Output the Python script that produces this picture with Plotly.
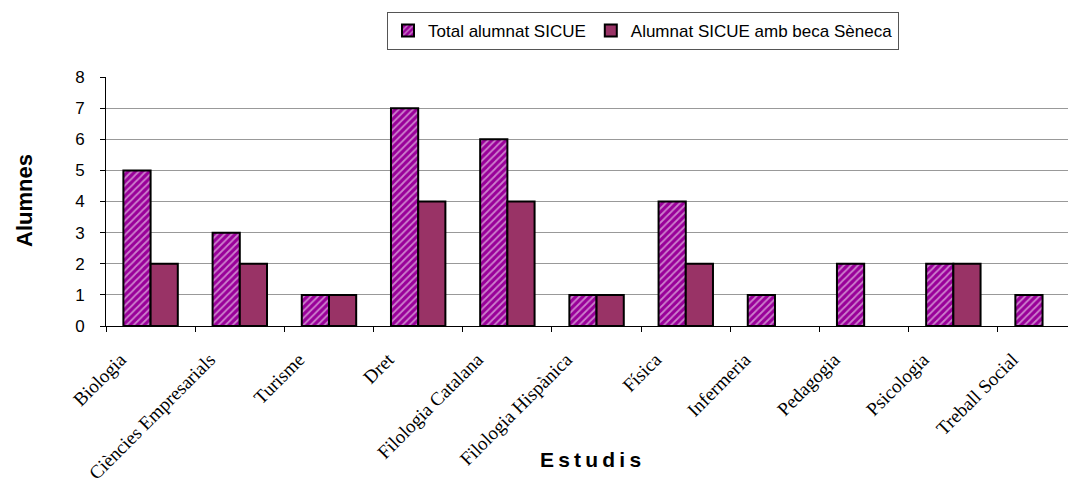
import plotly.graph_objects as go

categories = ["Biologia", "Ciències Empresarials", "Turisme", "Dret", "Filologia Catalana",
              "Filologia Hispànica", "Física", "Infermeria", "Pedagogia", "Psicologia", "Treball Social"]
total_alumnat = [5, 3, 1, 7, 6, 1, 4, 1, 2, 2, 1]
alumnat_beca = [2, 2, 1, 4, 4, 1, 2, None, None, 2, None]
y_ticks = [0, 1, 2, 3, 4, 5, 6, 7, 8]

fig = go.Figure()
fig.add_trace(go.Bar(
    x=categories, y=total_alumnat, name="Total alumnat SICUE",
    marker=dict(color="#990099", line=dict(color="black", width=2),
                pattern=dict(shape="/", fgcolor="white", bgcolor="#990099", size=5, solidity=0.35)),
))
fig.add_trace(go.Bar(
    x=categories, y=alumnat_beca, name="Alumnat SICUE amb beca Sèneca",
    marker=dict(color="#993366", line=dict(color="black", width=2)),
))

W, H = 1068, 476
PL, PR, PT, PB = 98, 1068, 69, 318
def px(x):
    return (x - PL) / (PR - PL)
def py(y):
    return (PB - y) / (PB - PT)

fig.update_layout(
    width=W, height=H,
    margin=dict(l=PL, r=W - PR, t=PT, b=H - PB),
    paper_bgcolor="white", plot_bgcolor="white",
    barmode="group", bargap=0.39, bargroupgap=0,
    showlegend=True,
    legend=dict(orientation="h", xref="container", yref="container",
                x=635 / W, xanchor="center", y=1 - 4 / H, yanchor="top",
                bordercolor="#555555", borderwidth=1,
                font=dict(family="Liberation Sans, Arial", size=17, color="black"),
                itemsizing="constant", traceorder="normal"),
    annotations=[
        dict(text="<b>Alumnes</b>", xref="paper", yref="paper", x=px(16), y=py(193),
             xanchor="center", yanchor="middle", textangle=-90, showarrow=False,
             font=dict(family="Liberation Sans, Arial", size=22, color="black")),
        dict(text="<b>E\u2009s\u2009t\u2009u\u2009d\u2009i\u2009s</b>", xref="paper", yref="paper",
             x=px(582), y=py(451), xanchor="center", yanchor="middle", showarrow=False,
             font=dict(family="Liberation Sans, Arial", size=21, color="black")),
    ],
)
fig.update_xaxes(
    range=[-0.5, 10.375], tickson="boundaries", ticks="outside", ticklen=5,
    tickcolor="black", showline=True, linecolor="black", linewidth=1,
    tickangle=-45, automargin=False, ticklabelshift=-30, ticklabelstandoff=14,
    tickfont=dict(family="Liberation Serif, Times New Roman", size=19, color="black"),
    showgrid=False,
)
fig.update_yaxes(
    range=[0, 8], tickvals=y_ticks, ticks="outside", ticklen=5, tickcolor="black",
    showline=True, linecolor="black", linewidth=1,
    showgrid=True, gridcolor="#999999", gridwidth=1, zeroline=False,
    automargin=False, ticklabelstandoff=12,
    tickfont=dict(family="Liberation Sans, Arial", size=17, color="black"),
)

fig.write_html("out.html")
